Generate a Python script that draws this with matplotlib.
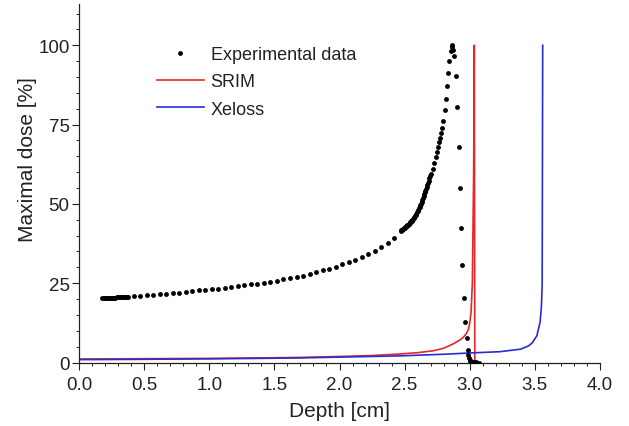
"""
Depth-dose profile: measured points vs SRIM and Xeloss calculations.
"""

import matplotlib
matplotlib.use('Agg')
import matplotlib.pyplot as plt
from matplotlib.ticker import MultipleLocator

# ---------------------------------------------------------------------------
# Data
# ---------------------------------------------------------------------------

exp_depth = [
    # dense start
    0.18, 0.19, 0.20, 0.21, 0.22, 0.23, 0.24, 0.25, 0.26, 0.27, 0.28,
    0.29, 0.30, 0.31, 0.32, 0.33, 0.34, 0.35, 0.36, 0.37, 0.38,
    # sparse plateau
    0.42, 0.47, 0.52, 0.57, 0.62, 0.67, 0.72, 0.77, 0.82, 0.87, 0.92, 0.97,
    1.02, 1.07, 1.12, 1.17, 1.22, 1.27, 1.32, 1.37, 1.42, 1.47, 1.52, 1.57,
    1.62, 1.67, 1.72, 1.77, 1.82, 1.87, 1.92, 1.97, 2.02, 2.07, 2.12, 2.17,
    2.22, 2.27, 2.32, 2.37, 2.42,
    # dense rise
    2.470, 2.475, 2.480, 2.485, 2.490, 2.495, 2.500, 2.505, 2.510, 2.515,
    2.520, 2.525, 2.530, 2.535, 2.540, 2.545, 2.550, 2.555, 2.560, 2.565,
    2.570, 2.575, 2.580, 2.585, 2.590, 2.595, 2.600, 2.605, 2.610, 2.615,
    2.620, 2.625, 2.630, 2.635, 2.640, 2.645, 2.650, 2.655, 2.660, 2.665,
    2.670, 2.675, 2.680, 2.685, 2.690, 2.695, 2.700,
    # towards the peak
    2.715, 2.728, 2.739, 2.749, 2.756, 2.764, 2.774, 2.782, 2.789, 2.797,
    2.808, 2.815, 2.823, 2.833, 2.843, 2.854, 2.862, 2.866, 2.870, 2.876,
    # distal fall-off
    2.892, 2.904, 2.915, 2.925, 2.933, 2.943, 2.954, 2.964, 2.977, 2.984,
    2.990, 2.995, 3.000, 3.005, 3.015, 3.030, 3.050, 3.070,
]
exp_dose = [
    20.2, 20.2, 20.25, 20.3, 20.3, 20.35, 20.35, 20.4, 20.4, 20.45, 20.45,
    20.5, 20.5, 20.55, 20.6, 20.6, 20.65, 20.7, 20.75, 20.75, 20.8,
    20.9, 21.0, 21.2, 21.3, 21.5, 21.6, 21.8, 22.0, 22.2, 22.4, 22.7, 22.9,
    23.1, 23.3, 23.5, 23.8, 24.0, 24.3, 24.6, 24.9, 25.2, 25.5, 25.8, 26.2,
    26.6, 27.0, 27.4, 27.9, 28.5, 29.0, 29.6, 30.2, 30.9, 31.6, 32.4, 33.3,
    34.2, 35.3, 36.5, 37.8, 39.2,
    41.5, 41.7, 41.9, 42.0, 42.2, 42.35, 42.5, 42.7, 42.9, 43.05,
    43.2, 43.4, 43.6, 43.8, 44.0, 44.25, 44.5, 44.75, 45.0, 45.25,
    45.5, 45.85, 46.2, 46.55, 46.9, 47.3, 47.7, 48.15, 48.6, 49.05,
    49.5, 50.05, 50.6, 51.2, 51.8, 52.4, 53.0, 53.6, 54.2, 54.8,
    55.4, 56.05, 56.7, 57.35, 58.0, 58.65, 59.3,
    60.9, 63.0, 64.8, 66.4, 67.8, 69.4, 70.9, 72.2, 73.8, 76.2,
    79.5, 83.2, 87.0, 91.3, 95.1, 98.2, 100.0, 99.3, 98.4, 96.6,
    90.3, 80.4, 67.9, 55.0, 42.3, 30.6, 20.3, 12.8, 7.6, 4.0,
    2.5, 1.5, 0.8, 0.4, 0.2, 0.1, 0.05, 0.0,
]

srim_depth = [0.0, 0.5, 1.0, 1.5, 1.7, 2.0, 2.25, 2.47, 2.6, 2.72, 2.80,
              2.87, 2.92, 2.95, 2.975, 2.99, 3.00, 3.01, 3.02, 3.03, 3.035,
              3.039]
srim_dose = [1.1, 1.2, 1.3, 1.5, 1.6, 1.9, 2.2, 2.7, 3.1, 3.7, 4.5,
             5.8, 7.0, 7.9, 9.2, 10.5, 12.5, 15.8, 25.0, 60.0, 100.0,
             0.0]

xeloss_depth = [0.0, 0.5, 1.0, 1.5, 1.7, 2.0, 2.47, 2.8, 3.0, 3.23, 3.39,
                3.45, 3.48, 3.515, 3.54, 3.55, 3.556, 3.56]
xeloss_dose = [0.9, 1.0, 1.15, 1.35, 1.45, 1.7, 2.1, 2.6, 3.0, 3.4, 4.2,
               5.2, 6.2, 8.4, 12.7, 17.5, 24.5, 100.0]

TEXT = '#222222'

# ---------------------------------------------------------------------------
# Plot
# ---------------------------------------------------------------------------

plt.rcParams['font.family'] = ['Liberation Sans', 'DejaVu Sans']

fig = plt.figure(figsize=(6.29, 4.27), dpi=100)
ax = fig.add_axes([79 / 629, 63.5 / 427, 521 / 629, 358.5 / 427])

ax.plot(exp_depth, exp_dose, 'o', color='black', ms=3.5, mew=0,
        label='Experimental data', zorder=3)
ax.plot(srim_depth, srim_dose, color='#e5262b', lw=1.2, label='SRIM')
ax.plot(xeloss_depth, xeloss_dose, color='#2b2bd2', lw=1.2, label='Xeloss')

ax.set_xlim(0, 4.0)
ax.set_ylim(0, 113)
ax.xaxis.set_major_locator(MultipleLocator(0.5))
ax.xaxis.set_minor_locator(MultipleLocator(0.1))
ax.yaxis.set_major_locator(MultipleLocator(25))
ax.yaxis.set_minor_locator(MultipleLocator(5))
ax.xaxis.set_major_formatter(plt.FormatStrFormatter('%.1f'))

for side in ('top', 'right'):
    ax.spines[side].set_visible(False)
for side in ('left', 'bottom'):
    ax.spines[side].set_color(TEXT)
    ax.spines[side].set_linewidth(0.9)

ax.tick_params(which='major', direction='out', length=4.8, width=0.8,
               color=TEXT, labelsize=13.5, labelcolor=TEXT, pad=2)
ax.tick_params(axis='x', which='major', pad=5)
ax.tick_params(which='minor', direction='out', length=2.3, width=0.7,
               color=TEXT)

ax.set_xlabel('Depth [cm]', fontsize=15, color=TEXT, labelpad=6)
ax.set_ylabel('Maximal dose [%]', fontsize=15, color=TEXT, labelpad=1,
              y=0.568)

leg = ax.legend(loc='upper left', bbox_to_anchor=(157 / 629, 1 - 47 / 427),
                bbox_transform=fig.transFigure, frameon=False, fontsize=13,
                numpoints=1, handlelength=2.6, handletextpad=0.37,
                labelspacing=0.57, borderpad=0, borderaxespad=0)
for t in leg.get_texts():
    t.set_color(TEXT)

fig.savefig('out.png', dpi=100)
